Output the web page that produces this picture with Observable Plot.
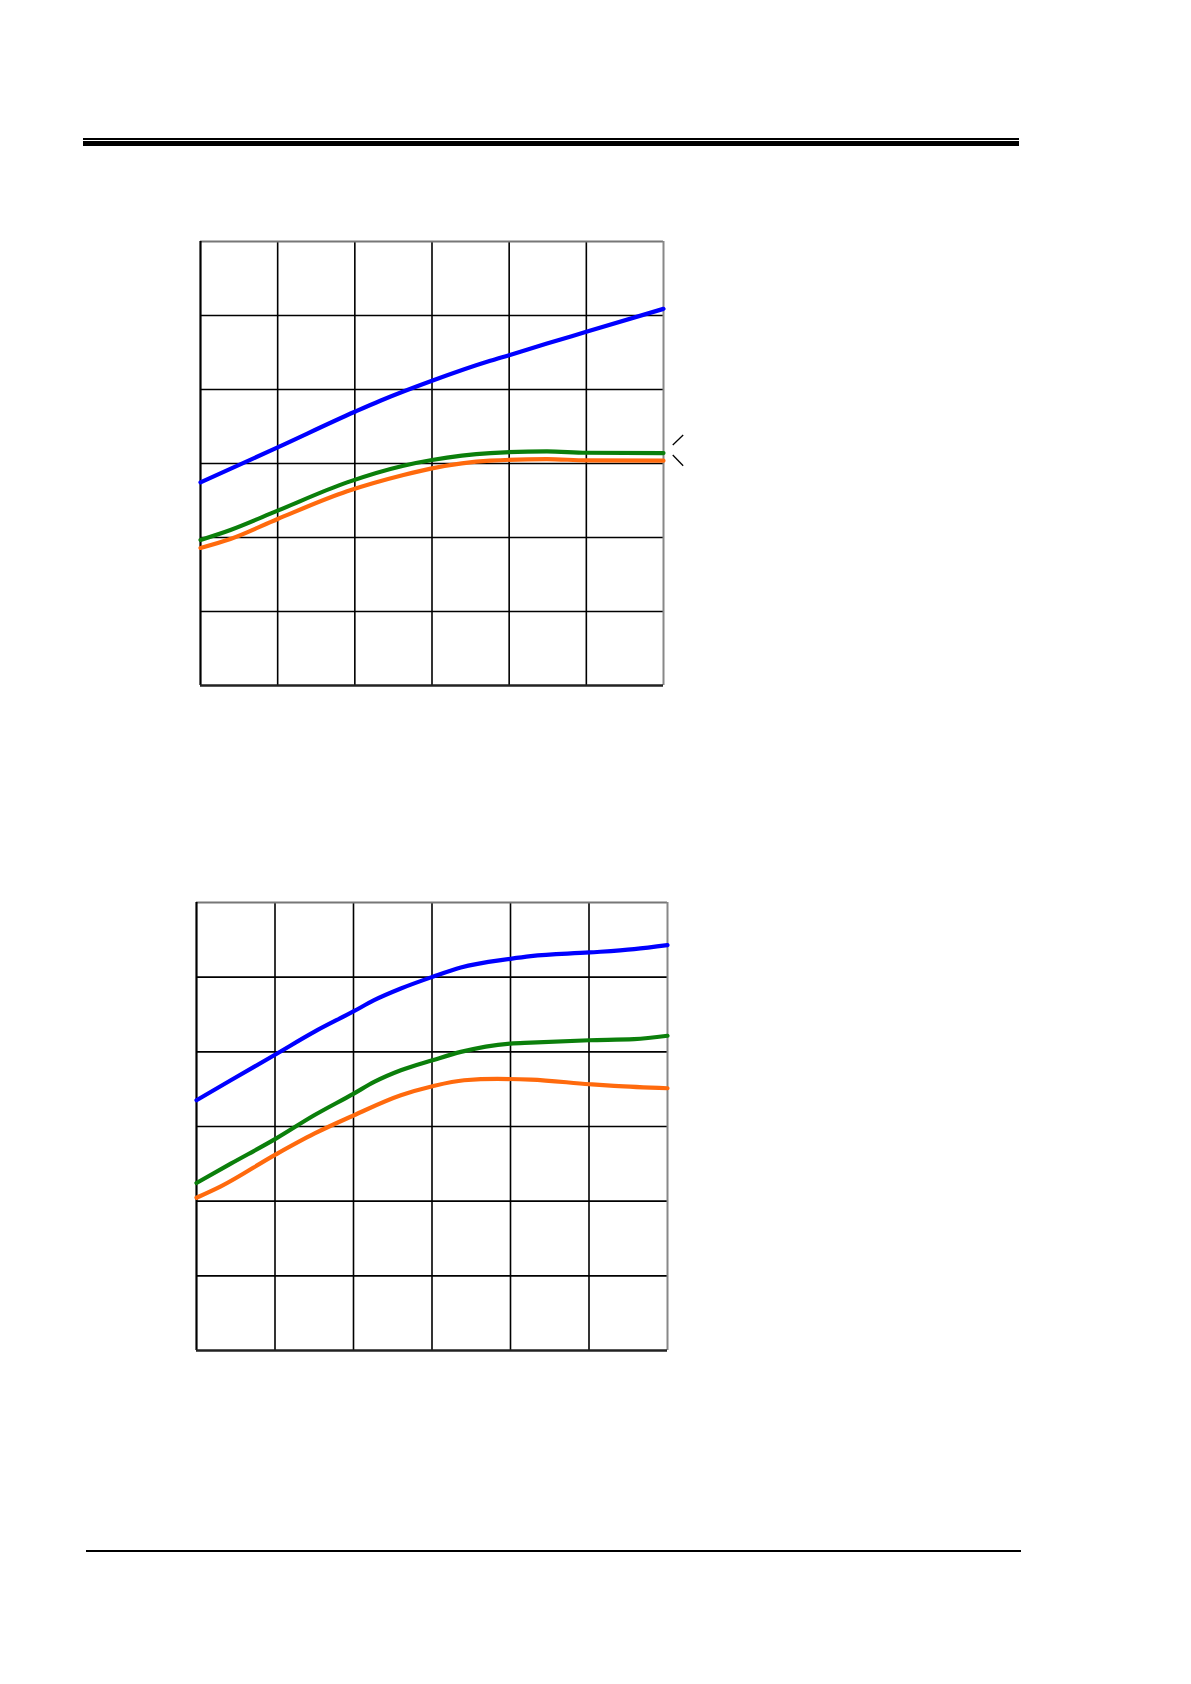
<!DOCTYPE html>
<html>
<head>
<meta charset="utf-8">
<script src="https://cdn.jsdelivr.net/npm/d3@7"></script>
<script src="https://cdn.jsdelivr.net/npm/@observablehq/plot@0.6"></script>
<style>
  html, body { margin: 0; padding: 0; background: #fff; }
  #page { position: relative; width: 1191px; height: 1684px; overflow: hidden; font-family: "Liberation Sans", Arial, sans-serif; }
  .rule { position: absolute; background: #000; }
  .chart { position: absolute; }
</style>
</head>
<body>
<div id="page">
  <div class="rule" style="left:83px; top:138px; width:936px; height:2px;"></div>
  <div class="rule" style="left:83px; top:141px; width:936px; height:4.5px;"></div>
  <div class="rule" style="left:86px; top:1550px; width:935px; height:2.2px;"></div>
  <div class="chart" id="c1" style="left:150px; top:200px;"></div>
  <div class="chart" id="c2" style="left:150px; top:860px;"></div>
</div>
<script>
// Grid ticks (6 x 6 divisions, no labels in the reference)
const xTicks = [0, 1, 2, 3, 4, 5, 6];
const yTicks = [0, 1, 2, 3, 4, 5, 6];
const seriesNames = ["Series A", "Series B", "Series C"];
const seriesColors = ["#0000ff", "#0b7f0b", "#ff6a0d"];

// Chart 1 series
const c1BlueX   = [0, 1.0, 2.0, 2.33, 3.0, 3.755, 4.0, 4.49, 5.0, 6.0];
const c1BlueY   = [2.745, 3.218, 3.699, 3.848, 4.118, 4.388, 4.464, 4.622, 4.779, 5.09];
const c1GreenX  = [0, 0.388, 1.0, 1.9, 2.63, 3.0, 3.755, 4.49, 5.0, 6.0];
const c1GreenY  = [1.967, 2.102, 2.363, 2.745, 2.97, 3.047, 3.141, 3.164, 3.145, 3.141];
const c1OrangeX = [0, 0.388, 1.0, 1.9, 2.63, 3.0, 3.755, 4.49, 5.0, 6.0];
const c1OrangeY = [1.859, 1.98, 2.25, 2.624, 2.844, 2.934, 3.038, 3.06, 3.042, 3.038];

// Chart 1 leader marks (labels absent in reference)
const c1LeaderX1 = [6.12, 6.12];
const c1LeaderY1 = [3.249, 3.114];
const c1LeaderX2 = [6.255, 6.255];
const c1LeaderY2 = [3.384, 2.97];

// Chart 2 series
const c2BlueX   = [0, 0.437, 1.011, 1.499, 2.004, 2.263, 2.603, 3.006, 3.367, 4.0, 4.259, 5.006, 5.575, 6.0];
const c2BlueY   = [3.351, 3.619, 3.968, 4.267, 4.544, 4.692, 4.848, 5.004, 5.13, 5.246, 5.282, 5.331, 5.376, 5.43];
const c2GreenX  = [0, 0.437, 1.011, 1.499, 2.004, 2.263, 2.603, 3.006, 3.367, 4.0, 4.259, 5.006, 5.575, 6.0];
const c2GreenY  = [2.243, 2.502, 2.837, 3.15, 3.441, 3.597, 3.753, 3.887, 3.999, 4.111, 4.124, 4.155, 4.169, 4.215];
const c2OrangeX = [0, 0.31, 1.011, 1.499, 2.004, 2.603, 3.006, 3.409, 3.834, 4.259, 5.006, 5.32, 6.0];
const c2OrangeY = [2.046, 2.198, 2.627, 2.904, 3.15, 3.418, 3.539, 3.619, 3.637, 3.628, 3.566, 3.544, 3.512];

function toRows(name, xs, ys) {
  return xs.map((x, i) => ({series: name, x, y: ys[i]}));
}

function makeChart(cfg) {
  const rows = [
    ...toRows(seriesNames[0], cfg.blueX, cfg.blueY),
    ...toRows(seriesNames[1], cfg.greenX, cfg.greenY),
    ...toRows(seriesNames[2], cfg.orangeX, cfg.orangeY)
  ];
  const inner = xTicks.slice(1, -1);
  const innerY = yTicks.slice(1, -1);
  const marks = [
    Plot.ruleX(inner, {stroke: "#000", strokeWidth: 1.6}),
    Plot.ruleY(innerY, {stroke: "#000", strokeWidth: 1.6}),
    Plot.ruleY([yTicks[yTicks.length - 1]], {stroke: "#777", strokeWidth: 2}),
    Plot.ruleX([xTicks[xTicks.length - 1]], {stroke: "#888", strokeWidth: 2}),
    Plot.ruleX([xTicks[0]], {stroke: "#000", strokeWidth: 2.2}),
    Plot.ruleY([yTicks[0]], {stroke: "#222", strokeWidth: 2.6}),
    Plot.line(rows, {x: "x", y: "y", z: "series", stroke: "series", strokeWidth: 4.2, curve: "monotone-x"})
  ];
  if (cfg.leaders) {
    const lrows = cfg.leaders.x1.map((x1, i) => ({x1, y1: cfg.leaders.y1[i], x2: cfg.leaders.x2[i], y2: cfg.leaders.y2[i]}));
    marks.push(Plot.link(lrows, {x1: "x1", y1: "y1", x2: "x2", y2: "y2", stroke: "#000", strokeWidth: 1.3, clip: false}));
  }
  return Plot.plot({
    width: cfg.width,
    height: cfg.height,
    marginLeft: cfg.ml, marginRight: cfg.mr, marginTop: cfg.mt, marginBottom: cfg.mb,
    x: {domain: [0, 6], axis: null},
    y: {domain: [0, 6], axis: null},
    color: {type: "ordinal", domain: seriesNames, range: seriesColors},
    style: {background: "transparent", overflow: "visible"},
    marks
  });
}

document.getElementById("c1").appendChild(makeChart({
  width: 540, height: 520, ml: 50, mr: 27, mt: 41, mb: 35,
  blueX: c1BlueX, blueY: c1BlueY, greenX: c1GreenX, greenY: c1GreenY, orangeX: c1OrangeX, orangeY: c1OrangeY,
  leaders: {x1: c1LeaderX1, y1: c1LeaderY1, x2: c1LeaderX2, y2: c1LeaderY2}
}));

document.getElementById("c2").appendChild(makeChart({
  width: 541, height: 520, ml: 46, mr: 24, mt: 42, mb: 30,
  blueX: c2BlueX, blueY: c2BlueY, greenX: c2GreenX, greenY: c2GreenY, orangeX: c2OrangeX, orangeY: c2OrangeY
}));
</script>
</body>
</html>
